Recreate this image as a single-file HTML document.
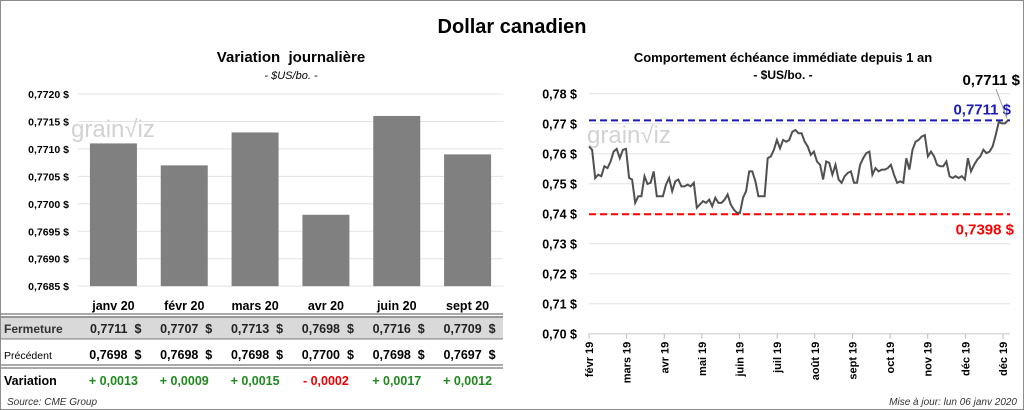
<!DOCTYPE html>
<html><head><meta charset="utf-8">
<style>
body{margin:0;background:#fff;font-family:"Liberation Sans",sans-serif;}
#wrap{position:relative;width:1022px;height:408px;border:1px solid #8c8c8c;overflow:hidden;}
svg text{font-family:"Liberation Sans",sans-serif;white-space:pre;}
</style></head><body>
<div id="wrap">
<svg id="svg" width="1022" height="408" xmlns="http://www.w3.org/2000/svg">
<text x="511" y="32" text-anchor="middle" font-size="20" font-weight="bold">Dollar canadien</text>
<text x="290" y="61" text-anchor="middle" font-size="15" font-weight="bold">Variation  journalière</text>
<text x="290" y="78" text-anchor="middle" font-size="11" font-style="italic">- $US/bo. -</text>
<text x="782" y="61" text-anchor="middle" font-size="13" font-weight="bold">Comportement échéance immédiate depuis 1 an</text>
<text x="782" y="78" text-anchor="middle" font-size="12" font-weight="bold">- $US/bo. -</text>
<g id="left"></g>
<g id="right"></g>
<g id="table"></g>
<text x="6" y="404" font-size="10" font-style="italic" fill="#333">Source: CME Group</text>
<text x="1016" y="404" text-anchor="end" font-size="10" font-style="italic" fill="#333">Mise à jour: lun 06 janv 2020</text>
</svg>
</div>
<script>
const barCats=["janv 20","févr 20","mars 20","avr 20","juin 20","sept 20"];
const closeVals=[0.7711,0.7707,0.7713,0.7698,0.7716,0.7709];
const prevVals=[0.7698,0.7698,0.7698,0.7700,0.7698,0.7697];
const varVals=[0.0013,0.0009,0.0015,-0.0002,0.0017,0.0012];
const barTicks=[0.7685,0.7690,0.7695,0.7700,0.7705,0.7710,0.7715,0.7720];
const lineVals=[0.7624,0.7613,0.7519,0.7530,0.7525,0.7558,0.7552,0.7574,0.7607,0.7616,0.7585,0.7613,0.7616,0.7519,0.7514,0.7436,0.7458,0.7458,0.7525,0.7499,0.7503,0.7541,0.7458,0.7458,0.7458,0.7497,0.7519,0.7475,0.7508,0.7514,0.7491,0.7491,0.7497,0.7491,0.7503,0.7420,0.7431,0.7442,0.7436,0.7447,0.7425,0.7453,0.7436,0.7436,0.7447,0.7464,0.7431,0.7414,0.7403,0.7403,0.7453,0.7475,0.7541,0.7541,0.7508,0.7458,0.7458,0.7458,0.7585,0.7591,0.7613,0.7646,0.7618,0.7646,0.7640,0.7646,0.7673,0.7679,0.7668,0.7668,0.7640,0.7624,0.7596,0.7607,0.7574,0.7563,0.7514,0.7574,0.7569,0.7530,0.7563,0.7514,0.7503,0.7525,0.7536,0.7541,0.7503,0.7503,0.7563,0.7585,0.7602,0.7607,0.7530,0.7552,0.7541,0.7547,0.7547,0.7552,0.7563,0.7530,0.7503,0.7508,0.7503,0.7585,0.7547,0.7613,0.7640,0.7646,0.7657,0.7662,0.7591,0.7607,0.7591,0.7563,0.7558,0.7558,0.7574,0.7525,0.7519,0.7525,0.7519,0.7525,0.7514,0.7585,0.7541,0.7563,0.7580,0.7591,0.7613,0.7602,0.7607,0.7624,0.7662,0.7706,0.7701,0.7701,0.7711];
const lineTicks=[0.70,0.71,0.72,0.73,0.74,0.75,0.76,0.77,0.78];
const monthLabels=["févr 19","mars 19","avr 19","mai 19","juin 19","juil 19","août 19","sept 19","oct 19","nov 19","déc 19","déc 19"];
const highVal=0.7711, lowVal=0.7398, lastVal=0.7711;

const NS="http://www.w3.org/2000/svg";
function mk(tag,attrs,parent,txt){const e=document.createElementNS(NS,tag);for(const k in attrs)e.setAttribute(k,attrs[k]);if(txt!==undefined)e.textContent=txt;parent.appendChild(e);return e;}
const fmt4=v=>v.toFixed(4).replace('.',',');
const fmt2=v=>v.toFixed(2).replace('.',',');

// left bar chart
const L=document.getElementById('left');
const lx0=77,lx1=502,ly=v=>93+(0.7720-v)/0.0005*27.45;
const band=(lx1-lx0)/barCats.length;
const bx=i=>lx0+band*(i+0.5);
barTicks.forEach(t=>{
 const g=mk('line',{x1:lx0,x2:lx1,y1:ly(t),y2:ly(t),stroke:'#e3e3e3','stroke-width':1},L);
 
 const tx=mk('text',{x:68,y:ly(t)+4,'text-anchor':'end','font-size':10.5,'font-weight':'bold'},L,fmt4(t)+' $');
 
});
mk('text',{x:70,y:136,'font-size':24,fill:'#d2d2d2'},L,'grain\u221Aiz');
closeVals.forEach((v,i)=>{
 const r=mk('rect',{x:bx(i)-23.5,y:ly(v),width:47,height:ly(0.7685)-ly(v),fill:'#808080'},L);
 
});

// table
const T=document.getElementById('table');
mk('rect',{x:0,y:315,width:502,height:23,fill:'#d9d9d9'},T);
[[313,1],[316,1],[338,0.7],[364,1],[367,1]].forEach(a=>mk('line',{x1:0,x2:502,y1:a[0],y2:a[0],stroke:'#555','stroke-width':a[1]},T));
barCats.forEach((c,i)=>{
 const t=mk('text',{x:bx(i),y:309,'text-anchor':'middle','font-size':12.5,'font-weight':'bold'},T,c);
 
 const a=mk('text',{x:bx(i)+28,y:332,'text-anchor':'end','font-size':12.5,'font-weight':'bold',fill:'#222'},T,fmt4(closeVals[i])+'\u00A0\u00A0$');
 
 const b=mk('text',{x:bx(i)+28,y:358,'text-anchor':'end','font-size':12.5,'font-weight':'bold'},T,fmt4(prevVals[i])+'\u00A0\u00A0$');
 
 const d=varVals[i];
 const s=(d>=0?'+ ':'- ')+fmt4(Math.abs(d));
 const e=mk('text',{x:bx(i),y:384,'text-anchor':'middle','font-size':12.5,'font-weight':'bold',fill:d>=0?'#1e8a1e':'#e00'},T,s);
 
});
mk('text',{x:3,y:332,'font-size':12,'font-weight':'bold',fill:'#333'},T,'Fermeture');
mk('text',{x:3,y:358,'font-size':10.5},T,'Précédent');
mk('text',{x:3,y:384,'font-size':12.5,'font-weight':'bold'},T,'Variation');

// right line chart
const R=document.getElementById('right');
const rx0=588,rx1=1009,ry=v=>92.7+(0.78-v)/0.01*30;
lineTicks.forEach(t=>{
 const g=mk('line',{x1:rx0,x2:rx1,y1:ry(t),y2:ry(t),stroke:'#e3e3e3','stroke-width':1},R);
 
 const tx=mk('text',{x:576,y:ry(t)+5,'text-anchor':'end','font-size':12.5,'font-weight':'bold'},R,fmt2(t)+' $');
 
});
mk('line',{x1:rx0,x2:rx1,y1:ry(0.70),y2:ry(0.70),stroke:'#d0d0d0'},R);
mk('text',{x:586,y:142,'font-size':24,fill:'#d2d2d2'},R,'grain\u221Aiz');
const mstep=(1002-rx0)/(monthLabels.length-1);
monthLabels.forEach((m,i)=>{
 const x=rx0+i*mstep;
 mk('line',{x1:x,x2:x,y1:ry(0.70),y2:ry(0.70)+5,stroke:'#bbb'},R);
 const t=mk('text',{x:0,y:0,transform:`translate(${x+4},${ry(0.70)+8}) rotate(-90)`,'text-anchor':'end','font-size':11,'font-weight':'bold'},R,m);
 
});
const hl=mk('line',{x1:rx0,x2:rx1,y1:ry(highVal),y2:ry(highVal),stroke:'#1a1ab8','stroke-width':2,'stroke-dasharray':'7,4'},R);

const ll=mk('line',{x1:rx0,x2:rx1,y1:ry(lowVal),y2:ry(lowVal),stroke:'#f00','stroke-width':2,'stroke-dasharray':'7,4'},R);

const xs=i=>rx0+(1007-rx0)*i/(lineVals.length-1);
const p=mk('polyline',{points:lineVals.map((v,i)=>xs(i).toFixed(1)+','+ry(v).toFixed(1)).join(' '),fill:'none',stroke:'#505050','stroke-width':2},R);

const hv=mk('text',{x:1010,y:ry(highVal)-6,'text-anchor':'end','font-size':15,'font-weight':'bold',fill:'#1a1ab8'},R,fmt4(highVal)+'\u00A0$');

const lv=mk('text',{x:1013,y:ry(lowVal)+20,'text-anchor':'end','font-size':15,'font-weight':'bold',fill:'#f00'},R,fmt4(lowVal)+'\u00A0$');

mk('line',{x1:995,y1:88,x2:1006,y2:ry(lastVal)-2,stroke:'#999'},R);
const la=mk('text',{x:1019,y:84,'text-anchor':'end','font-size':15,'font-weight':'bold'},R,fmt4(lastVal)+' $');

</script>
</body></html>
